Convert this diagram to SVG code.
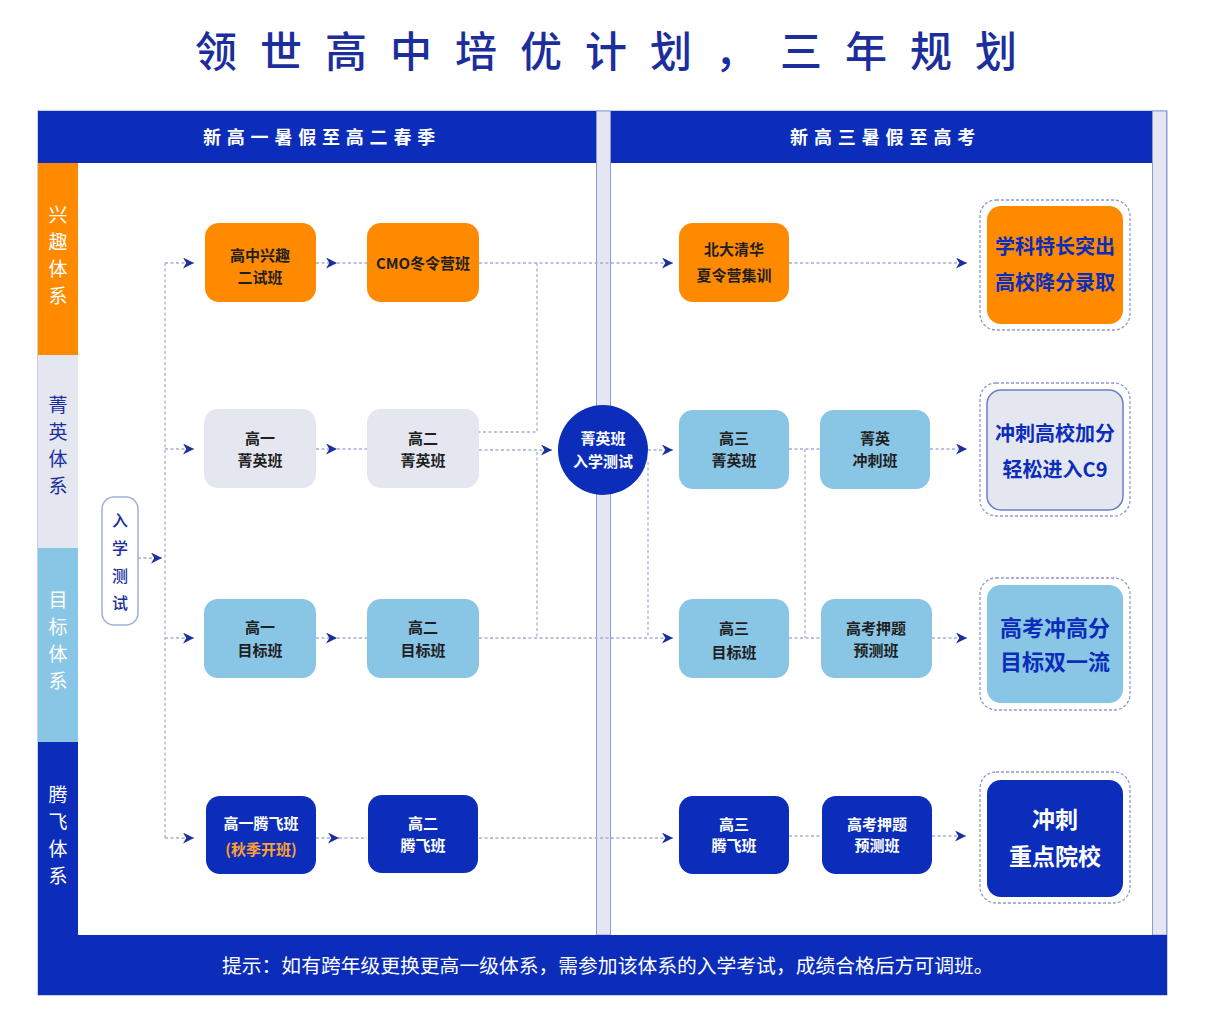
<svg xmlns="http://www.w3.org/2000/svg" width="1216" height="1009" viewBox="0 0 1216 1009">
<style>
  text{font-family:"Noto Sans CJK SC","Noto Sans",sans-serif}
  .blue{fill:#0b2db9}
  .sep{fill:#e4e7f1;stroke:#8e9dd3;stroke-width:1}
  .nor{fill:#ff8a00}
  .ngr{fill:#e5e7f0}
  .nlb{fill:#89c5e5}
  .ndb{fill:#0b2db9}
  .t{font-size:15px;font-weight:700;fill:#1f1f1f;text-anchor:middle}
  .tw{font-size:15px;font-weight:700;fill:#ffffff;text-anchor:middle}
  .side{font-size:19px;text-anchor:middle}
  .res{font-weight:700;fill:#0b2db9;text-anchor:middle}
  .outer{fill:#ffffff;stroke:#8c9bd2;stroke-width:1.3;stroke-dasharray:3 2}
  .c{fill:none;stroke:#a3afd8;stroke-width:1.3;stroke-dasharray:3 2.5}
  .a{marker-end:url(#arr)}
</style>
<defs>
  <marker id="arr" markerUnits="userSpaceOnUse" viewBox="0 0 10 10" refX="10" refY="5" markerWidth="11" markerHeight="11" orient="auto">
    <path d="M0,0 L10,5 L0,10 L3,5 Z" fill="#1c2e9c"/>
  </marker>
</defs>
<rect width="1216" height="1009" fill="#ffffff"/>

<text x="195" y="67" font-size="42" fill="#1c2e9c" letter-spacing="23" font-weight="500">领世高中培优计划，三年规划</text>

<g id="frame">
  <rect x="38" y="111" width="1129" height="884" fill="#ffffff" stroke="#8e9dd3" stroke-width="1"/>
  <rect class="blue" x="38" y="111" width="558" height="52"/>
  <rect class="blue" x="611" y="111" width="541" height="52"/>
  <rect class="sep" x="596.5" y="111" width="14" height="824"/>
  <rect class="sep" x="1152.5" y="111" width="14" height="824"/>
  <rect class="blue" x="38" y="935" width="1129" height="60"/>
  <text x="203" y="144" font-size="18" font-weight="700" fill="#ffffff" letter-spacing="5.8">新高一暑假至高二春季</text>
  <text x="790" y="144" font-size="18" font-weight="700" fill="#ffffff" letter-spacing="5.9">新高三暑假至高考</text>
  <text x="222" y="973" font-size="19.8" fill="#ffffff">提示：如有跨年级更换更高一级体系，需参加该体系的入学考试，成绩合格后方可调班。</text>
</g>

<g id="lanes">
  <rect x="38" y="163" width="40" height="192" fill="#ff8a00"/>
  <rect x="38" y="355" width="40" height="193" fill="#e5e7f0"/>
  <rect x="38" y="548" width="40" height="194" fill="#89c5e5"/>
  <rect x="38" y="742" width="40" height="193" fill="#0b2db9"/>
  <text class="side" fill="#ffffff"><tspan x="58" y="222">兴</tspan><tspan x="58" y="249">趣</tspan><tspan x="58" y="276">体</tspan><tspan x="58" y="303">系</tspan></text>
  <text class="side" fill="#1c2e9c"><tspan x="58" y="412">菁</tspan><tspan x="58" y="439">英</tspan><tspan x="58" y="466">体</tspan><tspan x="58" y="493">系</tspan></text>
  <text class="side" fill="#ffffff"><tspan x="58" y="607">目</tspan><tspan x="58" y="634">标</tspan><tspan x="58" y="661">体</tspan><tspan x="58" y="688">系</tspan></text>
  <text class="side" fill="#ffffff"><tspan x="58" y="802">腾</tspan><tspan x="58" y="829">飞</tspan><tspan x="58" y="856">体</tspan><tspan x="58" y="883">系</tspan></text>
</g>

<g id="connectors">
  <path class="c a" d="M138,558 H162"/>
  <path class="c" d="M165,263 V838"/>
  <path class="c a" d="M165,263 H194"/>
  <path class="c a" d="M165,449 H194"/>
  <path class="c a" d="M165,638 H194"/>
  <path class="c a" d="M165,838 H194"/>
  <path class="c a" d="M316,263 H337"/><path class="c" d="M337,263 H367"/>
  <path class="c a" d="M479,263 H673"/>
  <path class="c a" d="M789,263 H967"/>
  <path class="c" d="M537,263 V432 H479"/>
  <path class="c a" d="M316,449 H337"/><path class="c" d="M337,449 H367"/>
  <path class="c a" d="M479,450 H552"/>
  <path class="c a" d="M648,450 H673"/>
  <path class="c" d="M537,452 V638"/>
  <path class="c" d="M648,462 V638"/>
  <path class="c" d="M789,449 H821"/>
  <path class="c" d="M805,449 V638"/>
  <path class="c a" d="M930,449 H967"/>
  <path class="c a" d="M316,638 H337"/><path class="c" d="M337,638 H367"/>
  <path class="c a" d="M479,638 H673"/>
  <path class="c" d="M789,638 H822"/>
  <path class="c a" d="M932,638 H967"/>
  <path class="c a" d="M316,838 H339"/><path class="c" d="M339,838 H367"/>
  <path class="c a" d="M479,838 H673"/>
  <path class="c" d="M789,836 H822"/>
  <path class="c a" d="M932,836 H966"/>
</g>

<g id="entrance-test">
  <rect x="102" y="497" width="36" height="128" rx="12" fill="#ffffff" stroke="#9fb0d8" stroke-width="1.5"/>
  <text font-size="16" font-weight="500" fill="#1c2e9c" text-anchor="middle"><tspan x="120" y="526">入</tspan><tspan x="120" y="554">学</tspan><tspan x="120" y="582">测</tspan><tspan x="120" y="609">试</tspan></text>
</g>

<g id="n-xq1"><rect class="nor" x="205" y="223" width="111" height="79" rx="14"/><text class="t"><tspan x="260" y="261">高中兴趣</tspan><tspan x="260" y="283">二试班</tspan></text></g>
<g id="n-cmo"><rect class="nor" x="367" y="223" width="112" height="79" rx="14"/><text class="t" x="423" y="269">CMO冬令营班</text></g>
<g id="n-bdqh"><rect class="nor" x="679" y="223" width="110" height="79" rx="14"/><text class="t"><tspan x="734" y="255">北大清华</tspan><tspan x="734" y="281">夏令营集训</tspan></text></g>

<g id="n-jy1"><rect class="ngr" x="204" y="409" width="112" height="79" rx="14"/><text class="t"><tspan x="260" y="444">高一</tspan><tspan x="260" y="466">菁英班</tspan></text></g>
<g id="n-jy2"><rect class="ngr" x="367" y="409" width="112" height="79" rx="14"/><text class="t"><tspan x="423" y="444">高二</tspan><tspan x="423" y="466">菁英班</tspan></text></g>
<g id="n-jytest"><circle cx="603" cy="450" r="45" fill="#0b2db9"/><text class="tw"><tspan x="603" y="444">菁英班</tspan><tspan x="603" y="467">入学测试</tspan></text></g>
<g id="n-jy3"><rect class="nlb" x="679" y="410" width="110" height="79" rx="14"/><text class="t"><tspan x="734" y="444">高三</tspan><tspan x="734" y="466">菁英班</tspan></text></g>
<g id="n-jycc"><rect class="nlb" x="820" y="410" width="110" height="79" rx="14"/><text class="t"><tspan x="875" y="444">菁英</tspan><tspan x="875" y="466">冲刺班</tspan></text></g>

<g id="n-mb1"><rect class="nlb" x="204" y="599" width="112" height="79" rx="14"/><text class="t"><tspan x="260" y="633">高一</tspan><tspan x="260" y="656">目标班</tspan></text></g>
<g id="n-mb2"><rect class="nlb" x="367" y="599" width="112" height="79" rx="14"/><text class="t"><tspan x="423" y="633">高二</tspan><tspan x="423" y="656">目标班</tspan></text></g>
<g id="n-mb3"><rect class="nlb" x="679" y="599" width="110" height="79" rx="14"/><text class="t"><tspan x="734" y="634">高三</tspan><tspan x="734" y="658">目标班</tspan></text></g>
<g id="n-yc1"><rect class="nlb" x="821" y="599" width="111" height="79" rx="14"/><text class="t"><tspan x="876" y="634">高考押题</tspan><tspan x="876" y="656">预测班</tspan></text></g>

<g id="n-tf1"><rect class="ndb" x="206" y="796" width="110" height="78" rx="14"/><text class="tw"><tspan x="261" y="829">高一腾飞班</tspan><tspan x="261" y="855" fill="#ffa030">(秋季开班)</tspan></text></g>
<g id="n-tf2"><rect class="ndb" x="368" y="795" width="110" height="78" rx="14"/><text class="tw"><tspan x="423" y="829">高二</tspan><tspan x="423" y="851">腾飞班</tspan></text></g>
<g id="n-tf3"><rect class="ndb" x="679" y="796" width="110" height="78" rx="14"/><text class="tw"><tspan x="734" y="830">高三</tspan><tspan x="734" y="851">腾飞班</tspan></text></g>
<g id="n-yc2"><rect class="ndb" x="822" y="796" width="110" height="78" rx="14"/><text class="tw"><tspan x="877" y="830">高考押题</tspan><tspan x="877" y="851">预测班</tspan></text></g>

<g id="r-xq"><rect class="outer" x="980" y="200" width="150" height="130" rx="16"/><rect x="987" y="206" width="136" height="118" rx="14" fill="#ff8a00"/><text class="res" font-size="20"><tspan x="1055" y="254">学科特长突出</tspan><tspan x="1055" y="290">高校降分录取</tspan></text></g>
<g id="r-jy"><rect class="outer" x="980" y="383" width="150" height="133" rx="16"/><rect x="987" y="390" width="136" height="120" rx="14" fill="#e5e7f0" stroke="#6b7ec8" stroke-width="1.5"/><text class="res" font-size="20"><tspan x="1055" y="441">冲刺高校加分</tspan><tspan x="1055" y="477">轻松进入C9</tspan></text></g>
<g id="r-mb"><rect class="outer" x="980" y="578" width="150" height="132" rx="16"/><rect x="987" y="585" width="136" height="118" rx="14" fill="#89c5e5"/><text class="res" font-size="22"><tspan x="1055" y="636">高考冲高分</tspan><tspan x="1055" y="670">目标双一流</tspan></text></g>
<g id="r-tf"><rect class="outer" x="980" y="772" width="150" height="131" rx="16"/><rect x="987" y="780" width="136" height="117" rx="14" fill="#0b2db9"/><text class="res" font-size="23" style="fill:#ffffff"><tspan x="1055" y="828">冲刺</tspan><tspan x="1055" y="865">重点院校</tspan></text></g>
</svg>
